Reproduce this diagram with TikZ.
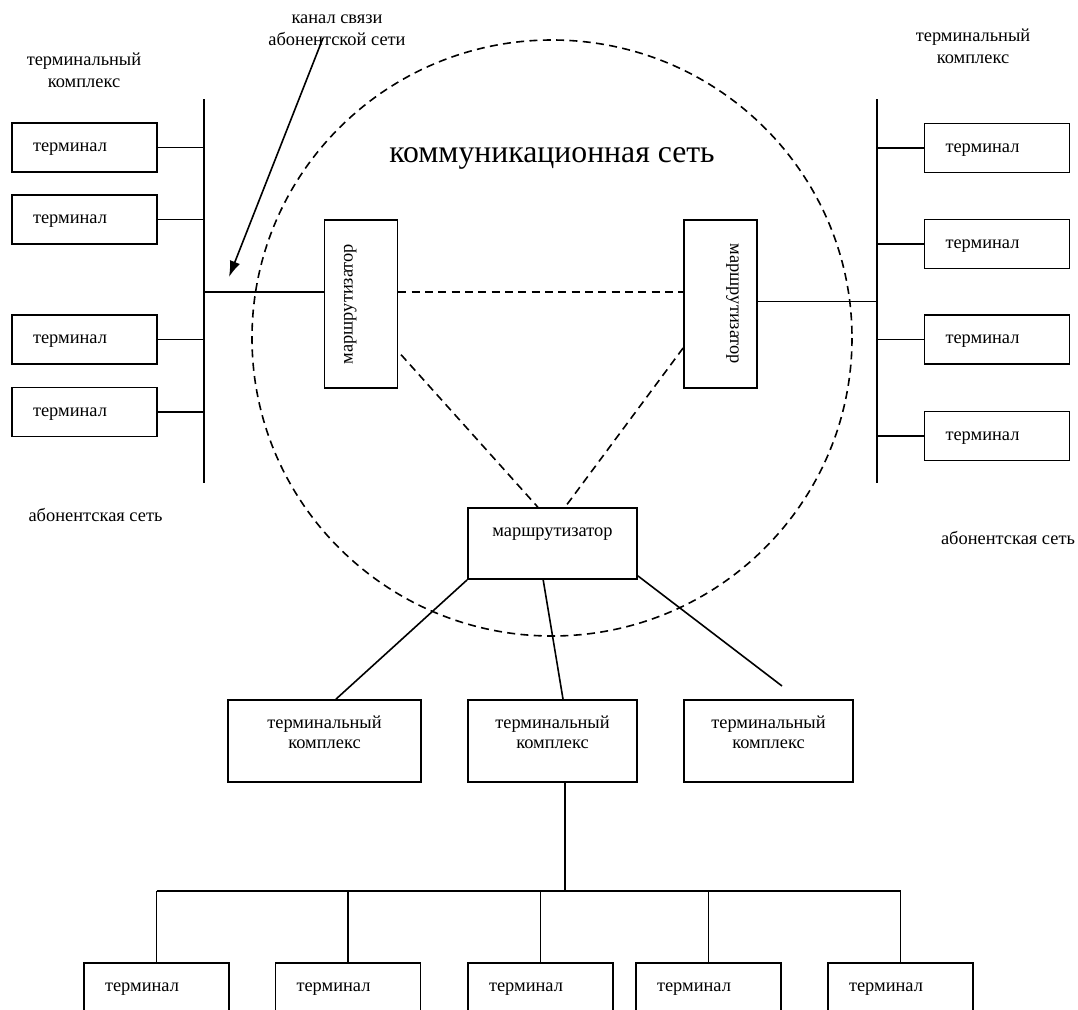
\documentclass[tikz,border=0pt]{standalone}
\usepackage{fontspec}
\setmainfont{Liberation Serif}
\usetikzlibrary{calc,positioning,arrows.meta}

\tikzset{
  net/.style={line width=1.2pt},
  link/.style={line width=1.2pt, dash pattern=on 6pt off 4pt},
  termbox/.style={draw, line width=1.3pt, minimum width=108.75pt, minimum height=36.75pt,
    text width=77.25pt, text depth=0pt, inner xsep=15.75pt, align=left},
  routbox/.style={draw, line width=1.3pt, minimum width=54.75pt, minimum height=126pt},
  routboxh/.style={draw, line width=1.3pt, minimum width=126.75pt, minimum height=53.25pt},
  cplxbox/.style={draw, line width=1.3pt, minimum width=126.75pt, minimum height=61.5pt},
  lbl/.style={align=center, font=\fontsize{13.8pt}{16.8pt}\selectfont},
  cplxtext/.style={align=center, font=\fontsize{13.8pt}{15pt}\selectfont},
}

\begin{document}
\begin{tikzpicture}[x=0.75pt,y=-0.75pt,font=\fontsize{13.8pt}{16.5pt}\selectfont]
\clip (0,0) rectangle (1078,1010);
\draw[link] (552,338) ellipse [x radius=300, y radius=298];

\node[termbox] (tl1) at (84.5,147.5) {терминал};
\node[termbox] (tl2) at (84.5,219.5) {терминал};
\node[termbox] (tl3) at (84.5,339.5) {терминал};
\node[termbox] (tl4) at (84.5,412) {терминал};
\coordinate (lbt) at (204,99);
\coordinate (lbb) at (204,483);
\draw[net] (lbt) -- (lbb);
\draw[net] (tl1.east) -- (tl1.east -| lbt);
\draw[net] (tl2.east) -- (tl2.east -| lbt);
\draw[net] (tl3.east) -- (tl3.east -| lbt);
\draw[net] (tl4.east) -- (tl4.east -| lbt);

\node[termbox] (tr1) at (997,148) {терминал};
\node[termbox] (tr2) at (997,244) {терминал};
\node[termbox] (tr3) at (997,339.5) {терминал};
\node[termbox] (tr4) at (997,436) {терминал};
\coordinate (rbt) at (877,99);
\coordinate (rbb) at (877,483);
\draw[net] (rbt) -- (rbb);
\draw[net] (tr1.west) -- (tr1.west -| rbt);
\draw[net] (tr2.west) -- (tr2.west -| rbt);
\draw[net] (tr3.west) -- (tr3.west -| rbt);
\draw[net] (tr4.west) -- (tr4.west -| rbt);

\node[routbox] (rl) at (361,304) {};
\node[routbox] (rr) at (720.5,304) {};
\node[routboxh] (rb) at (552.5,543.5) {};
\node[rotate=90] at ([xshift=20pt]rl.west) {маршрутизатор};
\node[rotate=-90] at ([xshift=-19pt]rr.east) {маршрутизатор};
\node at ([yshift=-20pt]rb.north) {маршрутизатор};

\draw[net] ([yshift=9pt]rl.west) -- ([yshift=9pt]rl.west -| lbt);
\draw[net] ([yshift=2pt]rr.east) -- ([yshift=2pt]rr.east -| rbt);
\draw[link] ([yshift=9pt]rl.east) -- ([yshift=9pt]rl.east -| rr.west);
\draw[link] ([xshift=2pt,yshift=-38pt]rl.east) -- ([xshift=-11pt]rb.north);
\draw[link] ([yshift=-33pt]rr.west) -- ([xshift=9.4pt]rb.north);

\node[cplxbox, minimum width=144.75pt] (cl) at (324.5,741) {};
\node[cplxbox] (cm) at (552.5,741) {};
\node[cplxbox] (cr) at (768.5,741) {};
\node[cplxtext] at ([yshift=-24.75pt]cl.north) {терминальный\\комплекс};
\node[cplxtext] at ([yshift=-24.75pt]cm.north) {терминальный\\комплекс};
\node[cplxtext] at ([yshift=-24.75pt]cr.north) {терминальный\\комплекс};
\coordinate (cfree) at (782,686);
\draw[net] (rb.south west) -- ([xshift=8.6pt]cl.north);
\draw[net] ([xshift=-7pt]rb.south) -- ([xshift=7.9pt]cm.north);
\draw[net] ([yshift=3pt]rb.south east) -- (cfree);

\node[termbox] (tb1) at (156.5,987.5) {терминал};
\node[termbox] (tb2) at (348,987.5) {терминал};
\node[termbox] (tb3) at (540.5,987.5) {терминал};
\node[termbox] (tb4) at (708.5,987.5) {терминал};
\node[termbox] (tb5) at (900.5,987.5) {терминал};
\coordinate (bbus) at (0,891);
\draw[net] ([xshift=9.4pt]cm.south) -- ([xshift=9.4pt]cm.south |- bbus);
\draw[net] (tb1.north |- bbus) -- (tb5.north |- bbus);
\draw[net] (tb1.north) -- (tb1.north |- bbus);
\draw[net] (tb2.north) -- (tb2.north |- bbus);
\draw[net] (tb3.north) -- (tb3.north |- bbus);
\draw[net] (tb4.north) -- (tb4.north |- bbus);
\draw[net] (tb5.north) -- (tb5.north |- bbus);

\coordinate (arrs) at (323,38);
\coordinate (arre) at (229,277);
\draw[net, -{Latex[length=12pt, width=8pt]}] (arrs) -- (arre);

\node[lbl] (ltc) at (84,70) {терминальный\\комплекс};
\node[lbl] (rtc) at (973,46) {терминальный\\комплекс};
\node[lbl] (chan) at (337,30) {канал связи\\абонентской сети};
\node[font=\fontsize{23.8pt}{28pt}\selectfont] (cnet) at (552,158) {коммуникационная сеть};
\node (lsub) at (95.5,515) {абонентская сеть};
\node (rsub) at (1008,538) {абонентская сеть};
\end{tikzpicture}
\end{document}
